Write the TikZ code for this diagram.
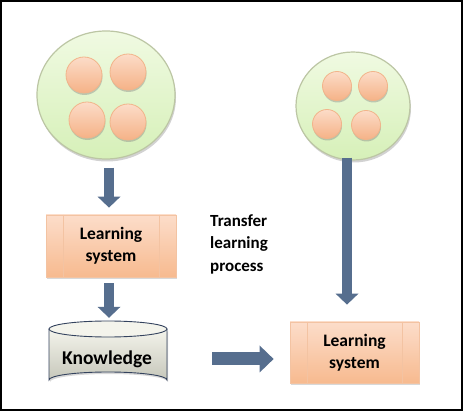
\documentclass[tikz,border=0pt]{standalone}
\usepackage{fontspec}
\setmainfont{Carlito}
\usetikzlibrary{arrows.meta,shadows,shapes.geometric}
\definecolor{arrowblue}{HTML}{566E8E}
\definecolor{greentop}{HTML}{F0FAE2}
\definecolor{greenbot}{HTML}{D6F0B8}
\definecolor{greenline}{HTML}{BCC6A4}
\definecolor{peachtop}{HTML}{FCDCC8}
\definecolor{peachbot}{HTML}{F5B287}
\definecolor{peachline}{HTML}{F2B48A}
\definecolor{boxtop}{HTML}{FCDDCA}
\definecolor{boxbot}{HTML}{F7BA8F}
\definecolor{boxline}{HTML}{F3C3A2}
\definecolor{cyltop}{HTML}{F4F4EC}
\definecolor{cylbot}{HTML}{C6C7BA}
\definecolor{cylline}{HTML}{34435E}
\tikzset{
  poolcircle/.style={ellipse, draw=greenline, line width=1.2pt, top color=greentop, bottom color=greenbot,
    drop shadow={shadow xshift=1pt, shadow yshift=-2.5pt, opacity=0.35, fill=gray}},
  peachball/.style={circle, draw=peachline, line width=0.8pt, top color=peachtop, bottom color=peachbot,
    minimum size=#1, inner sep=0pt,
    drop shadow={shadow xshift=0.5pt, shadow yshift=-2pt, opacity=0.4, fill=gray}},
  learnbox/.style={rectangle, draw=boxline, line width=0.8pt, top color=boxtop, bottom color=boxbot,
    minimum width=130pt, minimum height=62pt, align=center, inner sep=0pt,
    font=\fontsize{17.5}{22}\selectfont\bfseries,
    drop shadow={shadow xshift=1pt, shadow yshift=-2pt, opacity=0.3, fill=gray},
    path picture={
      \draw[boxline, line width=0.8pt] ([xshift=17pt]path picture bounding box.north west) -- ([xshift=17pt]path picture bounding box.south west);
      \draw[boxline, line width=0.8pt] ([xshift=-17pt]path picture bounding box.north east) -- ([xshift=-17pt]path picture bounding box.south east);
    }},
  bigarrow/.style={draw=arrowblue, line width=10pt,
    -{Triangle[length=11pt, width=23pt, line width=0pt, color=arrowblue]}},
  widearrow/.style={draw=arrowblue, line width=13pt,
    -{Triangle[length=14pt, width=27pt, line width=0pt, color=arrowblue]}},
}
\begin{document}
\begin{tikzpicture}[x=1pt, y=-1pt]
\useasboundingbox (0,0) rectangle (463,411);
\fill[white] (0,0) rectangle (463,411);
\draw[black, line width=2pt] (1,1) rectangle (462,410);

% left pool
\node[poolcircle, minimum width=138pt, minimum height=128pt] (srcA) at (106,95) {};
\node[peachball=36pt] (a1) at (84,75) {};
\node[peachball=36pt] (a2) at (128,72) {};
\node[peachball=36pt] (a3) at (87,120) {};
\node[peachball=36pt] (a4) at (128,122) {};

% right pool
\node[poolcircle, minimum width=114pt, minimum height=108pt] (srcB) at (353,106) {};
\node[peachball=29pt] (b1) at (337,86) {};
\node[peachball=29pt] (b2) at (373,86) {};
\node[peachball=29pt] (b3) at (327,124) {};
\node[peachball=29pt] (b4) at (366,125) {};

% learning systems
\node[learnbox] (ls1) at (111,246) {Learning\\system};
\node[learnbox, minimum width=129pt, minimum height=61pt] (ls2) at (354.5,352.5) {Learning\\system};

% knowledge cylinder
\path[top color=cyltop, bottom color=cylbot, drop shadow={shadow xshift=1pt, shadow yshift=-2pt, opacity=0.3, fill=gray}]
  (49,329) -- (49,380) arc[start angle=180, end angle=0, x radius=59pt, y radius=8pt]
  -- (167,329) arc[start angle=0, end angle=-180, x radius=59pt, y radius=8pt] -- cycle;
\draw[cylline, line width=0.9pt]
  (49,329) -- (49,380) arc[start angle=180, end angle=0, x radius=59pt, y radius=8pt] -- (167,329);
\draw[cylline, line width=0.9pt, fill=cyltop] (108,329) ellipse[x radius=59pt, y radius=8pt];
\node[minimum width=118pt, minimum height=67pt, inner sep=0pt] (kb) at (108,354.5) {};
\node[font=\fontsize{19.5}{23}\selectfont\bfseries, inner sep=0pt] (kbtext) at (107,359) {Knowledge};

% transfer text
\node[anchor=north west, align=left, inner sep=0pt,
  font=\fontsize{17}{22.5}\selectfont\bfseries] (tl) at (210,214) {Transfer\\learning\\process};

% arrows
\coordinate (a-start) at ([xshift=3pt]srcA.south);
\coordinate (c-start) at ([xshift=-6pt]srcB.south);
\draw[bigarrow, shorten <=8pt, shorten >=7pt] (a-start) -- (a-start |- ls1.north);
\draw[bigarrow, shorten <=6pt, shorten >=3pt] ([xshift=-2pt]ls1.south) -- ([xshift=-2pt]ls1.south |- kb.north);
\draw[widearrow, shorten <=45pt, shorten >=16pt] (kb.east |- kbtext) -- (ls2.west |- kbtext);
\draw[bigarrow, shorten <=-3pt, shorten >=17pt] (c-start) -- (c-start |- ls2.north);
\end{tikzpicture}
\end{document}
